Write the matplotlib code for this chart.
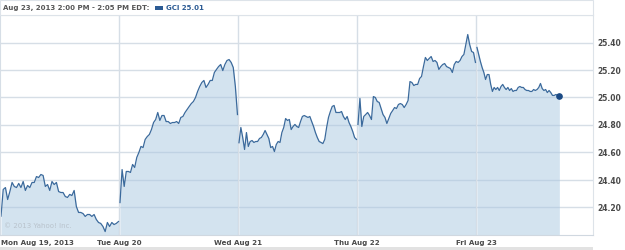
import numpy as np
import matplotlib.pyplot as plt
from matplotlib.patches import Rectangle

# GCI intraday prices, 5 trading days (Aug 19 - Aug 23, 2013)
mon = [24.137, 24.331, 24.345, 24.258, 24.316, 24.382, 24.353, 24.345, 24.375, 24.345,
       24.389, 24.324, 24.360, 24.345, 24.382, 24.382, 24.425, 24.418, 24.440, 24.433,
       24.353, 24.367, 24.324, 24.389, 24.367, 24.382, 24.316, 24.309, 24.309, 24.280,
       24.273, 24.295, 24.287, 24.324, 24.207, 24.164, 24.164, 24.156, 24.135, 24.149,
       24.149, 24.135, 24.149, 24.113, 24.091, 24.084, 24.062, 24.025, 24.091, 24.062,
       24.091, 24.076, 24.084, 24.098]
tue = [24.236, 24.476, 24.353, 24.462, 24.462, 24.455, 24.513, 24.491, 24.564, 24.600,
       24.644, 24.636, 24.695, 24.716, 24.731, 24.767, 24.818, 24.840, 24.891, 24.833,
       24.869, 24.869, 24.825, 24.825, 24.811, 24.818, 24.818, 24.825, 24.811, 24.855,
       24.862, 24.891, 24.913, 24.935, 24.956, 24.971, 25.000, 25.044, 25.080, 25.109,
       25.124, 25.073, 25.095, 25.124, 25.124, 25.182, 25.204, 25.225, 25.240, 25.196,
       25.240, 25.269, 25.276, 25.255, 25.218, 25.080, 24.876]
wed = [24.671, 24.782, 24.709, 24.622, 24.745, 24.644, 24.680, 24.687, 24.673, 24.680,
       24.680, 24.702, 24.709, 24.731, 24.760, 24.731, 24.702, 24.636, 24.644, 24.607,
       24.658, 24.680, 24.673, 24.745, 24.782, 24.847, 24.833, 24.840, 24.767, 24.789,
       24.804, 24.789, 24.782, 24.825, 24.862, 24.869, 24.862, 24.855, 24.862, 24.825,
       24.789, 24.745, 24.709, 24.680, 24.673, 24.665, 24.695, 24.782, 24.855, 24.898,
       24.935, 24.942, 24.891, 24.891, 24.891, 24.898, 24.862, 24.840, 24.862, 24.818,
       24.789, 24.753, 24.709, 24.695]
thu = [24.804, 24.993, 24.789, 24.862, 24.876, 24.891, 24.869, 24.840, 25.007, 25.000,
       24.971, 24.964, 24.920, 24.876, 24.855, 24.811, 24.847, 24.884, 24.905, 24.927,
       24.920, 24.949, 24.956, 24.949, 24.927, 24.949, 24.978, 25.116, 25.109, 25.087,
       25.095, 25.095, 25.138, 25.153, 25.225, 25.291, 25.269, 25.284, 25.298, 25.262,
       25.269, 25.255, 25.204, 25.225, 25.240, 25.247, 25.225, 25.218, 25.211, 25.182,
       25.240, 25.262, 25.255, 25.269, 25.298, 25.313, 25.385, 25.458, 25.385, 25.335,
       25.327, 25.255]
fri = [25.364, 25.313, 25.262, 25.218, 25.182, 25.131, 25.167, 25.167, 25.095, 25.044,
       25.073, 25.058, 25.073, 25.051, 25.080, 25.095, 25.073, 25.058, 25.073, 25.051,
       25.065, 25.044, 25.051, 25.051, 25.073, 25.080, 25.073, 25.073, 25.058, 25.051,
       25.051, 25.044, 25.044, 25.058, 25.051, 25.058, 25.073, 25.102, 25.065, 25.051,
       25.058, 25.036, 25.051, 25.036, 25.015, 25.015, 25.022, 25.015, 25.010]
days = [mon, tue, wed, thu, fri]
# minutes after the 9:30 open of the last 5-min bar of each session
last_bar = [385, 385, 385, 385, 270]
day_labels = ['Mon Aug 19, 2013', 'Tue Aug 20', 'Wed Aug 21', 'Thu Aug 22', 'Fri Aug 23']
yticks = [24.2, 24.4, 24.6, 24.8, 25.0, 25.2, 25.4]

line_c = '#3b6a9c'
fill_c = '#a9c8e1'
grid_c = '#d6dee6'
text_c = '#4a4a4a'

fig = plt.figure(figsize=(6.25, 2.5), dpi=100)
ax = fig.add_axes([0, 0.06, 0.9488, 0.88])
ax.set_xlim(-0.0084, 4.975)
ax.set_ylim(24.0, 25.6)

for y in yticks:
    ax.axhline(y, color=grid_c, lw=1, zorder=0)
for d in range(1, 5):
    ax.axvline(d - 0.008, color=grid_c, lw=1, zorder=0)

for d, vals in enumerate(days):
    t = d + np.linspace(0, last_bar[d] / 390, len(vals))
    ax.fill_between(t, 24.0, vals, color=fill_c, alpha=0.5, lw=0, zorder=1)
    ax.plot(t, vals, color=line_c, lw=0.9, zorder=2)
ax.plot(4 + last_bar[4] / 390, fri[-1], 'o', color='#1b4a85', ms=3.8, zorder=3)

ax.set_yticks(yticks)
ax.yaxis.tick_right()
ax.set_yticklabels(['%.2f' % v for v in yticks], fontsize=5.5, fontweight='bold', color=text_c)
ax.tick_params(axis='y', length=0, pad=3)
ax.set_xticks([])
for s in ['top', 'left']:
    ax.spines[s].set_color(grid_c)
ax.spines['right'].set_color('#dde3e9')
ax.spines['bottom'].set_color('#d0d8e0')

for d, lab in enumerate(day_labels):
    ha = 'left' if d == 0 else 'center'
    ax.text(d + (0.0 if d == 0 else -0.008), -0.035, lab, transform=ax.get_xaxis_transform(),
            ha=ha, va='center', fontsize=5.1, fontweight='bold', color=text_c)

ax.text(0.006, 0.025, '\u00a9 2013 Yahoo! Inc.', transform=ax.transAxes, fontsize=5,
        color='#b9c3cc', ha='left', va='bottom', zorder=4)

# header band
fig.patches.append(Rectangle((0, 0.94), 0.9488, 0.058, transform=fig.transFigure,
                             fc='white', ec='#dde3e9', lw=0.8))
fig.text(0.005, 0.968, 'Aug 23, 2013 2:00 PM - 2:05 PM EDT:', fontsize=5, fontweight='bold',
         color='#555555', va='center')
fig.patches.append(Rectangle((0.248, 0.961), 0.013, 0.014, transform=fig.transFigure,
                             fc='#2c5b94', ec='none'))
fig.text(0.266, 0.968, 'GCI 25.01', fontsize=5, fontweight='bold', color='#2c5b94', va='center')

# grey bar along the bottom
fig.patches.append(Rectangle((0, 0), 0.9488, 0.012, transform=fig.transFigure,
                             fc='#e2e2e2', ec='none'))

fig.savefig('out.png', dpi=100)
